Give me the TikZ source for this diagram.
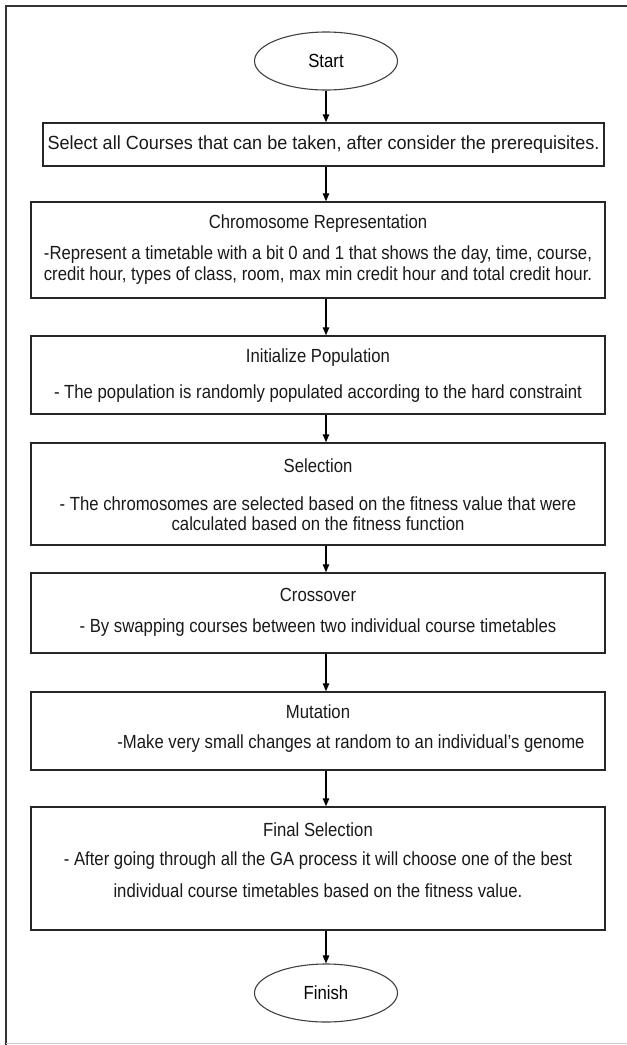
\documentclass[tikz,border=0pt]{standalone}
\usepackage{fontspec}
\setmainfont{Liberation Sans}[FakeStretch=0.88]
\newfontfamily\selfont{Liberation Sans}[FakeStretch=0.95]
\usetikzlibrary{shapes.geometric,arrows.meta}
\begin{document}
\begin{tikzpicture}[x=1pt,y=-1pt]
\tikzset{
 procbox/.style={draw=black!85, line width=1.5pt, rectangle, inner sep=0pt, minimum width=574pt},
 term/.style={draw=black!75, line width=1.1pt, ellipse, minimum width=143pt, minimum height=58pt, inner sep=0pt, font=\fontsize{19}{22}\selectfont},
 lbl/.style={inner sep=0pt, font=\fontsize{19}{22}\selectfont, text=black!90},
 flow/.style={line width=1.3pt, -{Triangle[length=8pt,width=6.5pt]}},
 frame/.style={line width=1.8pt, draw=black!80},
}
\useasboundingbox (0,0) rectangle (627,1045);
% outer frame
\coordinate (ftl) at (6,6);
\coordinate (ftr) at (627,6);
\coordinate (fbl) at (6,1045);
\coordinate (gbl) at (6,1043);
\coordinate (gbr) at (627,1043);
\draw[frame] (ftr) -- (ftl) -- (fbl);
\draw[black!20, line width=1pt] (gbl) -- (gbr);

% terminals
\node[term] (start) at (326,61) {Start};
\node[term] (finish) at (326,993) {Finish};

% boxes
\node[procbox, minimum width=561pt, minimum height=43pt] (b1) at (323.5,144.5) {};
\node[lbl, font=\selfont\fontsize{19}{22}\selectfont] (t1) at (323.5,144.5) {Select all Courses that can be taken, after consider the prerequisites.};

\node[procbox, minimum height=96pt] (b2) at (318,250) {};
\node[lbl] (t2a) at (318,224) {Chromosome Representation};
\node[lbl] (t2b) at (318,255) {-Represent a timetable with a bit 0 and 1 that shows the day, time, course,};
\node[lbl] (t2c) at (318,276) {credit hour, types of class, room, max min credit hour and total credit hour.};

\node[procbox, minimum height=78pt] (b3) at (318,375) {};
\node[lbl] (t3a) at (318,358) {Initialize Population};
\node[lbl] (t3b) at (318,394) {- The population is randomly populated according to the hard constraint};

\node[procbox, minimum height=102pt] (b4) at (318,494) {};
\node[lbl] (t4a) at (318,466) {Selection};
\node[lbl] (t4b) at (318,504) {- The chromosomes are selected based on the fitness value that were};
\node[lbl] (t4c) at (318,524) {calculated based on the fitness function};

\node[procbox, minimum height=80pt] (b5) at (318,613) {};
\node[lbl] (t5a) at (318,595) {Crossover};
\node[lbl] (t5b) at (318,628) {- By swapping courses between two individual course timetables};

\node[procbox, minimum height=78pt] (b6) at (318,731) {};
\node[lbl] (t6a) at (318,712) {Mutation};
\node[lbl] (t6b) at (351,744) {-Make very small changes at random to an individual’s genome};

\node[procbox, minimum height=123pt] (b7) at (318,868.5) {};
\node[lbl] (t7a) at (318,830) {Final Selection};
\node[lbl] (t7b) at (318,861) {- After going through all the GA process it will choose one of the best};
\node[lbl] (t7c) at (318,891) {individual course timetables based on the fitness value.};

% connectors
\draw[flow] (start.south) -- (start.south |- b1.north);
\draw[flow] (start.south |- b1.south) -- (start.south |- b2.north);
\draw[flow] (start.south |- b2.south) -- (start.south |- b3.north);
\draw[flow] (start.south |- b3.south) -- (start.south |- b4.north);
\draw[flow] (start.south |- b4.south) -- (start.south |- b5.north);
\draw[flow] (start.south |- b5.south) -- (start.south |- b6.north);
\draw[flow] (start.south |- b6.south) -- (start.south |- b7.north);
\draw[flow] (start.south |- b7.south) -- (finish.north);
\end{tikzpicture}
\end{document}
